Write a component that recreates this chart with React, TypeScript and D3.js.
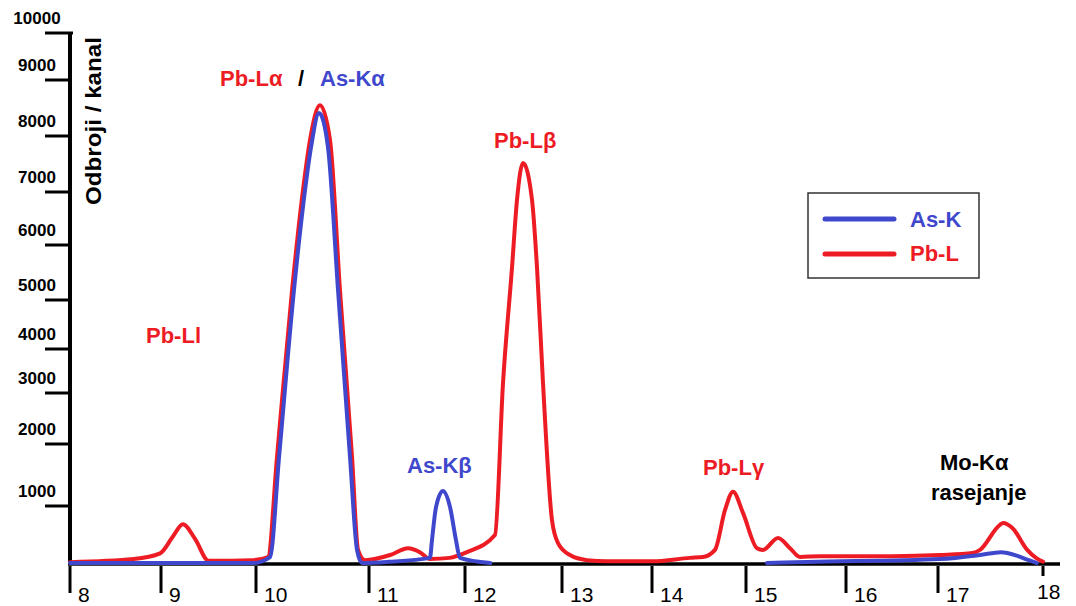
import React from "react";
import * as d3 from "d3";

// X axis: energy (keV) ticks and their positions-defining breakpoints
const xTicks = [8, 9, 10, 11, 12, 13, 14, 15, 16, 17, 18];
const xTickPx = [70, 161, 256, 369, 465, 562, 652, 746, 846, 938, 1043];
// Y axis: counts ticks (the original axis is non-uniform)
const yTicks = [0, 1000, 2000, 3000, 4000, 5000, 6000, 7000, 8000, 9000, 10000];
const yTickPx = [563, 506, 444, 393, 349, 300, 245, 192, 136, 80, 33];

// Pb-L series
const pbX = [8.0, 8.7, 8.99, 9.12, 9.23, 9.36, 9.5, 9.97, 10.106, 10.186, 10.319, 10.416, 10.478, 10.566, 10.655, 10.743, 10.85, 10.903, 10.965, 11.22, 11.406, 11.53, 11.635, 11.84, 12.02, 12.309, 12.392, 12.485, 12.536, 12.598, 12.691, 12.742, 12.804, 12.897, 12.959, 13.089, 13.278, 13.5, 14.0, 14.404, 14.543, 14.67, 14.777, 14.862, 14.968, 15.11, 15.17, 15.32, 15.44, 15.54, 15.74, 16.5, 17.02, 17.33, 17.4, 17.59, 17.62, 17.71, 17.85, 17.94, 18.0];
const pbY = [15, 70, 170, 450, 680, 420, 40, 50, 105, 1790, 5180, 7036, 7930, 8550, 7930, 5180, 1790, 230, 50, 140, 260, 190, 70, 90, 190, 490, 3230, 5600, 6850, 7520, 6850, 5600, 3230, 750, 350, 140, 50, 30, 30, 90, 105, 230, 930, 1230, 880, 260, 230, 440, 260, 105, 120, 120, 140, 175, 230, 670, 700, 610, 230, 80, 25];

// As-K series (null = no line drawn)
const asX = [8.0, 9.97, 10.124, 10.204, 10.336, 10.434, 10.487, 10.558, 10.637, 10.726, 10.832, 10.894, 10.938, 11.2, 11.635, 11.656, 11.698, 11.77, 11.844, 11.906, 11.948, 12.26, 12.3, 15.21, 15.61, 17.02, 17.4, 17.6, 17.75, 17.85, 17.94];
const asY: (number | null)[] = [0, 0, 105, 1790, 5180, 7036, 7800, 8410, 7800, 5180, 1790, 230, 0, 20, 90, 400, 980, 1240, 980, 400, 90, 0, null, 0, 18, 70, 140, 190, 130, 60, 0];

const RED = "#ed1c24";
const BLUE = "#3f48cc";
const FONT = "Arial, 'Liberation Sans', sans-serif";

const annotations = [
  { text: "Pb-L\u03b1", x: 220, y: 86, color: RED },
  { text: "/", x: 298, y: 86, color: "#000" },
  { text: "As-K\u03b1", x: 320, y: 86, color: BLUE },
  { text: "Pb-L\u03b2", x: 494, y: 148, color: RED },
  { text: "Pb-Ll", x: 146, y: 343, color: RED },
  { text: "As-K\u03b2", x: 407, y: 473, color: BLUE },
  { text: "Pb-L\u03b3", x: 703, y: 475, color: RED },
  { text: "Mo-K\u03b1", x: 940, y: 470, color: "#000" },
  { text: "rasejanje", x: 931, y: 500, color: "#000" },
];

export default function App() {
  const x = d3.scaleLinear().domain(xTicks).range(xTickPx);
  const y = d3.scaleLinear().domain(yTicks).range(yTickPx);

  const pbData = pbX.map((v, i) => [v, pbY[i]] as [number, number | null]);
  const asData = asX.map((v, i) => [v, asY[i]] as [number, number | null]);

  const line = d3
    .line<[number, number | null]>()
    .defined((d) => d[1] != null)
    .x((d) => x(d[0]))
    .y((d) => y(d[1] as number))
    .curve(d3.curveMonotoneX);

  const x0 = x(8);
  const y0 = y(0);

  return (
    <svg
      width={1076}
      height={606}
      style={{ position: "absolute", left: 0, top: 0, background: "#fff" }}
      fontFamily={FONT}
    >
      <rect width={1076} height={606} fill="#fff" />
      {/* Y axis */}
      <line x1={x0} x2={x0} y1={y(10000)} y2={y0 + 1} stroke="#000" strokeWidth={4} />
      {yTicks.slice(1).map((t) => (
        <g key={t}>
          <line x1={45} x2={t === 10000 ? 73 : 70} y1={y(t)} y2={y(t)} stroke="#000" strokeWidth={3} />
          <text x={37} y={y(t) - 9} textAnchor="middle" fontSize={17} fontWeight="bold" fill="#000">
            {t}
          </text>
        </g>
      ))}
      <text
        transform={`translate(101,121) rotate(-90)`}
        textAnchor="middle"
        fontSize={22}
        fontWeight="bold"
        fill="#000"
        textLength={168}
        lengthAdjust="spacingAndGlyphs"
      >
        Odbroji / kanal
      </text>

      {/* X axis */}
      <line x1={x0 - 2} x2={1060} y1={y0 + 1} y2={y0 + 1} stroke="#000" strokeWidth={3.5} />
      {xTicks.map((t) => (
        <g key={t}>
          <line x1={x(t)} x2={x(t)} y1={y0 + 3} y2={t === 18 ? y0 + 13 : y0 + 30} stroke="#000" strokeWidth={3} />
          <text x={t === 18 ? x(t) - 6 : x(t) + 8} y={t === 18 ? 599 : 602} fontSize={21} fill="#000">
            {t}
          </text>
        </g>
      ))}

      {/* Series */}
      <path d={line(pbData) || ""} fill="none" stroke={RED} strokeWidth={4} strokeLinejoin="round" strokeLinecap="round" />
      <path d={line(asData) || ""} fill="none" stroke={BLUE} strokeWidth={4} strokeLinejoin="round" strokeLinecap="round" />

      {/* Annotations */}
      {annotations.map((a, i) => (
        <text key={i} x={a.x} y={a.y} fontSize={22} fontWeight="bold" fill={a.color}>
          {a.text}
        </text>
      ))}

      {/* Legend */}
      <rect x={808} y={193} width={171} height={85} fill="#fff" stroke="#333" strokeWidth={1.5} />
      <line x1={825} x2={894} y1={219} y2={219} stroke={BLUE} strokeWidth={5} strokeLinecap="round" />
      <text x={910} y={227} fontSize={22} fontWeight="bold" fill={BLUE}>
        As-K
      </text>
      <line x1={825} x2={894} y1={254} y2={254} stroke={RED} strokeWidth={5} strokeLinecap="round" />
      <text x={910} y={261} fontSize={22} fontWeight="bold" fill={RED}>
        Pb-L
      </text>
    </svg>
  );
}
